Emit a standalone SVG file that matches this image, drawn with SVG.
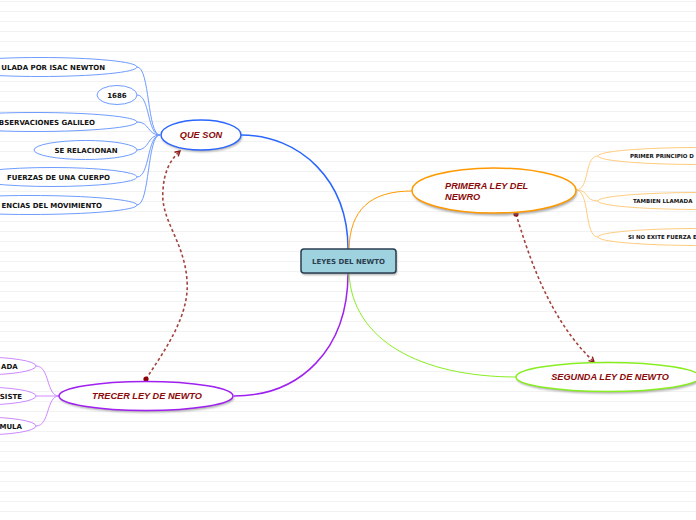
<svg xmlns="http://www.w3.org/2000/svg" width="696" height="520" viewBox="0 0 696 520">
<defs>
<pattern id="ruled" width="10" height="10" patternUnits="userSpaceOnUse">
<rect width="10" height="10" fill="#ffffff"/>
<line x1="0" y1="1.5" x2="10" y2="1.5" stroke="#f2f2f2" stroke-width="1"/>
</pattern>
<filter id="sh" x="-20%" y="-40%" width="140%" height="180%">
<feGaussianBlur stdDeviation="1.2"/>
</filter>
<marker id="arr" viewBox="0 0 10 10" refX="8" refY="5" markerWidth="7" markerHeight="7" orient="auto" markerUnits="userSpaceOnUse">
<path d="M1,1 L8,5 L1,9" fill="none" stroke="#8b1a1a" stroke-width="2"/>
</marker>
</defs>
<style>
.main{font-family:"Liberation Sans",Arial,sans-serif;font-weight:bold;font-style:italic;font-size:9.2px;fill:#8b0a0a}
.sub{font-family:"DejaVu Sans",Verdana,sans-serif;font-weight:bold;font-size:7px;fill:#111111}
.subs{font-family:"DejaVu Sans",Verdana,sans-serif;font-weight:bold;font-size:5.5px;fill:#111111}
.ctr{font-family:"DejaVu Sans",Verdana,sans-serif;font-weight:bold;font-size:7px;fill:#2c3e50}
.shadow{fill:#888888;opacity:0.7;filter:url(#sh)}
.blue{fill:#ffffff;stroke:#6f9cff;stroke-width:1}
.orange{fill:#ffffff;stroke:#ffcc80;stroke-width:1}
.purple{fill:#ffffff;stroke:#cc88ff;stroke-width:1}
.dash{fill:none;stroke:#a5443e;stroke-width:1.6;stroke-dasharray:3 2.5}
</style>
<rect width="696" height="520" fill="url(#ruled)"/>

<g id="connectors" fill="none">
<path d="M348,249 C348,180 300,135 241,135" stroke="#2a66ff" stroke-width="1.5"/>
<path d="M349,249 C350,210 370,191 412,191" stroke="#ff9900" stroke-width="1"/>
<path d="M348,273 C348,350 300,396 234,396" stroke="#a020f0" stroke-width="1.5"/>
<path d="M349,273 C352,340 420,377 517,377" stroke="#88ee22" stroke-width="1"/>
<g stroke="#6f9cff" stroke-width="1">
<path d="M160,135 C147,135 150,67 137,67"/>
<path d="M160,135 C147,135 150,95 137,95"/>
<path d="M160,135 C147,135 150,122 137,122"/>
<path d="M160,135 C147,135 150,150 137,150"/>
<path d="M160,135 C147,135 150,177 137,177"/>
<path d="M160,135 C147,135 150,205 137,205"/>
</g>
<g stroke="#ffcc80" stroke-width="1">
<path d="M576,190 C590,190 584,156 598,156"/>
<path d="M576,190 C590,190 584,201 598,201"/>
<path d="M576,190 C590,190 584,237 598,237"/>
</g>
<g stroke="#cc88ff" stroke-width="1">
<path d="M59,396 C46,396 50,366 36,366"/>
<path d="M59,396 C46,396 50,396 36,396"/>
<path d="M59,396 C46,396 50,426 36,426"/>
</g>
<path class="dash" d="M146,379 C165,350 190,315 187,280 C184,240 160,220 163,190 C164,172 170,160 180,151" marker-end="url(#arr)"/>
<circle cx="146" cy="379" r="2.6" fill="#8b0000"/>
<path class="dash" d="M516,214 C530,260 550,320 594,362" marker-end="url(#arr)"/>
<circle cx="516" cy="214" r="2.6" fill="#8b0000"/>
</g>

<g id="central">
<rect x="302" y="251" width="95" height="24" rx="3" class="shadow"/>
<rect x="301" y="249" width="95" height="24" rx="3" fill="#9ed2df" stroke="#2b3e4f" stroke-width="1.5"/>
<text x="348.5" y="263.5" text-anchor="middle" class="ctr">LEYES DEL NEWTO</text>
</g>

<g id="que-son">
<ellipse cx="202" cy="137" rx="40" ry="15" class="shadow"/>
<ellipse cx="201" cy="135" rx="40" ry="15" fill="#ffffff" stroke="#2a66ff" stroke-width="1.5"/>
<text x="201" y="138" text-anchor="middle" class="main">QUE SON</text>
</g>

<g id="primera-ley">
<ellipse cx="495" cy="193" rx="82" ry="22.5" class="shadow"/>
<ellipse cx="494" cy="190.5" rx="82" ry="22.5" fill="#ffffff" stroke="#ff9900" stroke-width="1.5"/>
<text x="445" y="189" class="main">PRIMERA LEY DEL</text>
<text x="445" y="200" class="main">NEWRO</text>
</g>

<g id="trecer-ley">
<ellipse cx="147" cy="398" rx="87" ry="14.5" class="shadow"/>
<ellipse cx="146" cy="396" rx="87" ry="14.5" fill="#ffffff" stroke="#a020f0" stroke-width="1.5"/>
<text x="147" y="399" text-anchor="middle" class="main">TRECER LEY DE NEWTO</text>
</g>

<g id="segunda-ley">
<ellipse cx="609" cy="379" rx="92" ry="14.5" class="shadow"/>
<ellipse cx="608" cy="377" rx="92" ry="14.5" fill="#ffffff" stroke="#88ee22" stroke-width="1.5"/>
<text x="610" y="380" text-anchor="middle" class="main">SEGUNDA LEY DE NEWTO</text>
</g>

<g id="q1">
<ellipse cx="40" cy="67" rx="97" ry="9.5" class="blue"/>
<text x="105" y="69.5" text-anchor="end" class="sub">ULADA POR ISAC NEWTON</text>
</g>
<g id="q2">
<ellipse cx="117" cy="95" rx="20" ry="9.5" class="blue"/>
<text x="117" y="97.5" text-anchor="middle" class="sub">1686</text>
</g>
<g id="q3">
<ellipse cx="35" cy="122" rx="102" ry="9.5" class="blue"/>
<text x="95" y="124.5" text-anchor="end" class="sub">BSERVACIONES GALILEO</text>
</g>
<g id="q4">
<ellipse cx="85.5" cy="150" rx="51.5" ry="9.5" class="blue"/>
<text x="86" y="152.5" text-anchor="middle" class="sub">SE RELACIONAN</text>
</g>
<g id="q5">
<ellipse cx="52" cy="177" rx="85" ry="9.5" class="blue"/>
<text x="58.5" y="179.5" text-anchor="middle" class="sub">FUERZAS DE UNA CUERPO</text>
</g>
<g id="q6">
<ellipse cx="30" cy="205" rx="107" ry="9.5" class="blue"/>
<text x="102" y="207.5" text-anchor="end" class="sub">ENCIAS DEL MOVIMIENTO</text>
</g>

<g id="p1">
<ellipse cx="700" cy="156" rx="102" ry="8.5" class="orange"/>
<text x="630" y="158" class="subs">PRIMER PRINCIPIO D</text>
</g>
<g id="p2">
<ellipse cx="700" cy="201" rx="102" ry="8.5" class="orange"/>
<text x="633" y="203" class="subs">TAMBIEN LLAMADA</text>
</g>
<g id="p3">
<ellipse cx="700" cy="237" rx="102" ry="8.5" class="orange"/>
<text x="628" y="239" class="subs">SI NO EXITE FUERZA E</text>
</g>

<g id="t1">
<ellipse cx="-20" cy="366" rx="56" ry="9" class="purple"/>
<text x="1" y="368.5" class="sub">ADA</text>
</g>
<g id="t2">
<ellipse cx="-20" cy="396" rx="56" ry="9" class="purple"/>
<text x="22" y="398.5" text-anchor="end" class="sub">SISTE</text>
</g>
<g id="t3">
<ellipse cx="-20" cy="426" rx="56" ry="9" class="purple"/>
<text x="22" y="428.5" text-anchor="end" class="sub">MULA</text>
</g>
</svg>
